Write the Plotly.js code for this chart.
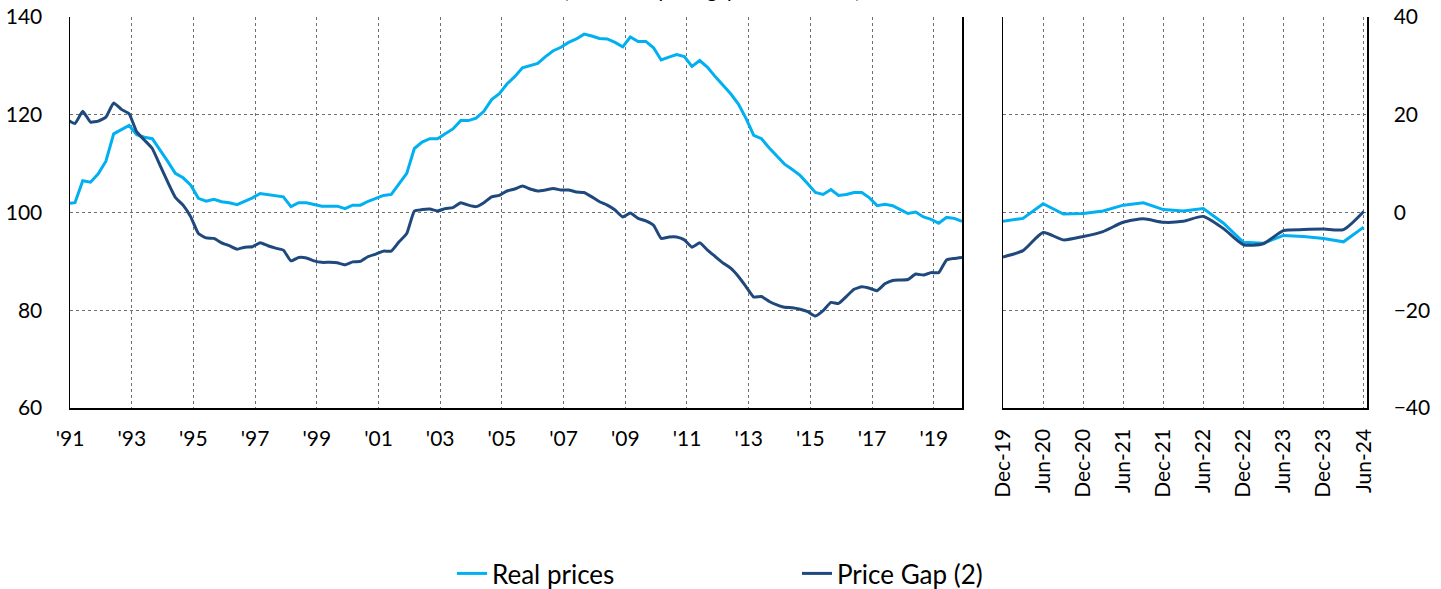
<!DOCTYPE html>
<html>
<head>
<meta charset="utf-8">
<script src="https://cdn.plot.ly/plotly-3.0.1.min.js"></script>
<style>
  html, body { margin: 0; padding: 0; background: #ffffff; }
  #chart { width: 1441px; height: 589px; }
</style>
</head>
<body>
<div id="chart"></div>
<script>
// ---------- Data ----------
// Long-run panel: quarterly observations (Dec-1990 .. Dec-2019)
const longDates = [
  "1990-12",
  "1991-03","1991-06","1991-09","1991-12",
  "1992-03","1992-06","1992-09","1992-12",
  "1993-03","1993-06","1993-09","1993-12",
  "1994-03","1994-06","1994-09","1994-12",
  "1995-03","1995-06","1995-09","1995-12",
  "1996-03","1996-06","1996-09","1996-12",
  "1997-03","1997-06","1997-09","1997-12",
  "1998-03","1998-06","1998-09","1998-12",
  "1999-03","1999-06","1999-09","1999-12",
  "2000-03","2000-06","2000-09","2000-12",
  "2001-03","2001-06","2001-09","2001-12",
  "2002-03","2002-06","2002-09","2002-12",
  "2003-03","2003-06","2003-09","2003-12",
  "2004-03","2004-06","2004-09","2004-12",
  "2005-03","2005-06","2005-09","2005-12",
  "2006-03","2006-06","2006-09","2006-12",
  "2007-03","2007-06","2007-09","2007-12",
  "2008-03","2008-06","2008-09","2008-12",
  "2009-03","2009-06","2009-09","2009-12",
  "2010-03","2010-06","2010-09","2010-12",
  "2011-03","2011-06","2011-09","2011-12",
  "2012-03","2012-06","2012-09","2012-12",
  "2013-03","2013-06","2013-09","2013-12",
  "2014-03","2014-06","2014-09","2014-12",
  "2015-03","2015-06","2015-09","2015-12",
  "2016-03","2016-06","2016-09","2016-12",
  "2017-03","2017-06","2017-09","2017-12",
  "2018-03","2018-06","2018-09","2018-12",
  "2019-03","2019-06","2019-09","2019-12"
];

// Real prices (index, left axis)
const longRealPrices = [
  101.8,
  102.0, 106.5, 106.2, 107.9,
  110.5, 116.1, 117.0, 117.8,
  115.9, 115.4, 115.1, 112.9,
  110.5, 108.0, 107.1, 105.6,
  102.9, 102.3, 102.7, 102.2,
  102.0, 101.6, 102.3, 103.0,
  103.9, 103.7, 103.5, 103.2,
  101.2, 102.0, 102.0, 101.6,
  101.3, 101.3, 101.3, 100.8,
  101.5, 101.5, 102.3, 102.9,
  103.5, 103.7, 105.8, 108.0,
  113.1, 114.4, 115.1, 115.1,
  116.1, 117.1, 118.8, 118.8,
  119.3, 120.7, 123.1, 124.3,
  126.3, 127.8, 129.6, 130.1,
  130.5, 131.9, 133.1, 133.8,
  134.8, 135.5, 136.5, 136.1,
  135.6, 135.5, 134.8, 133.9,
  135.9, 135.0, 135.0, 133.7,
  131.2, 131.8, 132.3, 131.9,
  129.9, 131.1, 129.7, 127.8,
  126.0, 124.3, 122.2, 119.2,
  115.8, 115.1, 113.2, 111.5,
  109.9, 108.8, 107.6, 105.9,
  104.1, 103.7, 104.7, 103.5,
  103.7, 104.1, 104.1, 103.0,
  101.4, 101.7, 101.4, 100.6,
  99.8, 100.1, 99.1, 98.6,
  97.8, 99.0, 98.8, 98.2
];

// Price gap (percentage points, right axis scale)
const longPriceGap = [
  19.0,
  18.2, 20.7, 18.5, 18.7,
  19.5, 22.4, 21.1, 20.2,
  16.5, 14.8, 13.1, 9.7,
  6.3, 3.1, 1.5, -0.9,
  -4.3, -5.2, -5.3, -6.2,
  -6.8, -7.5, -7.1, -7.0,
  -6.2, -6.8, -7.3, -7.7,
  -9.9, -9.2, -9.3, -9.9,
  -10.2, -10.2, -10.3, -10.7,
  -10.1, -10.0, -9.0, -8.5,
  -7.9, -7.9, -6.0, -4.3,
  0.3, 0.6, 0.7, 0.3,
  0.8, 1.0, 2.0, 1.5,
  1.2, 2.0, 3.2, 3.5,
  4.4, 4.8, 5.4, 4.8,
  4.4, 4.6, 4.9, 4.6,
  4.6, 4.2, 4.1, 3.2,
  2.2, 1.5, 0.5, -0.9,
  -0.1, -1.2, -1.7, -2.6,
  -5.3, -5.0, -5.0, -5.6,
  -7.1, -6.2, -7.7, -9.0,
  -10.3, -11.4, -13.1, -15.2,
  -17.3, -17.2, -18.2, -18.9,
  -19.4, -19.5, -19.8, -20.3,
  -21.2, -20.1, -18.4, -18.6,
  -17.2, -15.7, -15.2, -15.5,
  -16.0, -14.6, -13.9, -13.8,
  -13.7, -12.6, -12.8, -12.3,
  -12.3, -9.7, -9.4, -9.2
];

// Recent panel: quarterly observations (Dec-19 .. Jun-24)
const recentDates = [
  "2019-12","2020-03","2020-06","2020-09","2020-12",
  "2021-03","2021-06","2021-09","2021-12",
  "2022-03","2022-06","2022-09","2022-12",
  "2023-03","2023-06","2023-09","2023-12",
  "2024-03","2024-06"
];
const recentRealPrices = [-1.8, -1.2, 1.8, -0.3, -0.2, 0.3, 1.5, 2.0, 0.6, 0.3, 0.8, -2.2, -6.1, -6.3, -4.7, -4.9, -5.3, -6.0, -3.0];
const recentPriceGap   = [-9.1, -7.8, -4.1, -5.6, -4.9, -3.9, -2.0, -1.3, -2.0, -1.8, -0.8, -3.3, -6.6, -6.4, -3.7, -3.5, -3.4, -3.5, 0.2];

// Tick labels
const longTickVals = ["1991-01-01","1993-01-01","1995-01-01","1997-01-01","1999-01-01","2001-01-01","2003-01-01","2005-01-01","2007-01-01","2009-01-01","2011-01-01","2013-01-01","2015-01-01","2017-01-01","2019-01-01"];
const longTickText = ["'91","'93","'95","'97","'99","'01","'03","'05","'07","'09","'11","'13","'15","'17","'19"];
const recentTickVals = ["2019-12-01","2020-06-01","2020-12-01","2021-06-01","2021-12-01","2022-06-01","2022-12-01","2023-06-01","2023-12-01","2024-06-01"];
const recentTickText = ["Dec-19","Jun-20","Dec-20","Jun-21","Dec-21","Jun-22","Dec-22","Jun-23","Dec-23","Jun-24"];
const leftTicks = [60, 80, 100, 120, 140];
const rightTicks = [-40, -20, 0, 20, 40];

const seriesNames = ["Real prices", "Price Gap (2)"];
const colorLight = "#00B0F0";
const colorDark = "#1F497D";

// ---------- Traces ----------
const traces = [
  { x: longDates, y: longRealPrices, name: seriesNames[0], type: "scatter", mode: "lines",
    xaxis: "x", yaxis: "y", line: { color: colorLight, width: 3 }, legendrank: 1 },
  { x: longDates, y: longPriceGap, name: seriesNames[1], type: "scatter", mode: "lines",
    xaxis: "x", yaxis: "y3", line: { color: colorDark, width: 3, shape: "spline", smoothing: 0.4 }, legendrank: 2 },
  { x: recentDates, y: recentRealPrices, name: seriesNames[0], type: "scatter", mode: "lines",
    xaxis: "x2", yaxis: "y2", line: { color: colorLight, width: 3 }, showlegend: false },
  { x: recentDates, y: recentPriceGap, name: seriesNames[1], type: "scatter", mode: "lines",
    xaxis: "x2", yaxis: "y2", line: { color: colorDark, width: 3, shape: "spline", smoothing: 0.6 }, showlegend: false }
];

const W = 1441, H = 589;
const yDom = [1 - 408 / H, 1 - 17 / H];
const FONT = "Lato, 'Open Sans', sans-serif";
const tickFont = { family: FONT, size: 21, color: "#000000" };
const gridStyle = { showgrid: true, gridcolor: "#6f6f6f", griddash: "dot", gridwidth: 1 };

const layout = {
  width: W, height: H,
  margin: { l: 0, r: 0, t: 0, b: 0 },
  paper_bgcolor: "#ffffff", plot_bgcolor: "#ffffff",
  font: tickFont,
  showlegend: true,
  legend: {
    orientation: "h", x: 452 / W, xanchor: "left", y: 0, yanchor: "bottom",
    entrywidth: 300, entrywidthmode: "pixels", bgcolor: "rgba(0,0,0,0)",
    font: { family: FONT, size: 26, color: "#000000" },
    traceorder: "normal", itemwidth: 30
  },
  xaxis: Object.assign({
    domain: [70 / W, 962 / W], anchor: "y", type: "date",
    range: ["1991-01-01", "2019-12-01"],
    tickmode: "array", tickvals: longTickVals, ticktext: longTickText,
    ticks: "", ticklabelstandoff: 11, tickangle: 0,
    showline: true, linecolor: "#000000", linewidth: 1.5,
    tickfont: tickFont, fixedrange: true
  }, gridStyle),
  yaxis: Object.assign({
    domain: yDom, anchor: "x", range: [60, 140],
    tickmode: "array", tickvals: leftTicks,
    ticks: "", ticklabelstandoff: 22,
    showline: true, mirror: true, linecolor: "#000000", linewidth: 1.5,
    zeroline: false, tickfont: tickFont
  }, gridStyle),
  yaxis3: {
    overlaying: "y", anchor: "x", range: [-40, 40], visible: false, showgrid: false, zeroline: false
  },
  xaxis2: Object.assign({
    domain: [1003 / W, 1367 / W], anchor: "y2", type: "date",
    range: ["2019-12-01", "2024-06-16"],
    tickmode: "array", tickvals: recentTickVals, ticktext: recentTickText,
    ticks: "", ticklabelstandoff: 11, tickangle: -90,
    showline: true, linecolor: "#000000", linewidth: 1.5,
    tickfont: tickFont
  }, gridStyle),
  yaxis2: Object.assign({
    domain: yDom, anchor: "x2", side: "right", range: [-40, 40],
    tickmode: "array", tickvals: rightTicks,
    ticks: "", ticklabelstandoff: 21,
    showline: true, mirror: true, linecolor: "#000000", linewidth: 1.5,
    zeroline: false, tickfont: tickFont
  }, gridStyle),
  annotations: [
    { text: "(index and price gap in % of trend)", xref: "paper", yref: "paper",
      x: 712 / W, y: 1, xanchor: "center", yanchor: "bottom", yshift: -4,
      showarrow: false, font: { family: FONT, size: 20, color: "#000000" } }
  ]
};

Plotly.newPlot("chart", traces, layout, { displayModeBar: false, staticPlot: true }).then(function (gd) {
  // nudge the legend a few pixels lower (legend box padding keeps it above the reference baseline)
  const lg = gd.querySelector("g.legend");
  if (lg) {
    const t = lg.getAttribute("transform") || "";
    const m = t.match(/translate\(\s*([-\d.]+)[ ,]+([-\d.]+)\s*\)/);
    if (m) lg.setAttribute("transform", "translate(" + m[1] + "," + (parseFloat(m[2]) + 8) + ")");
  }
});
</script>
</body>
</html>
